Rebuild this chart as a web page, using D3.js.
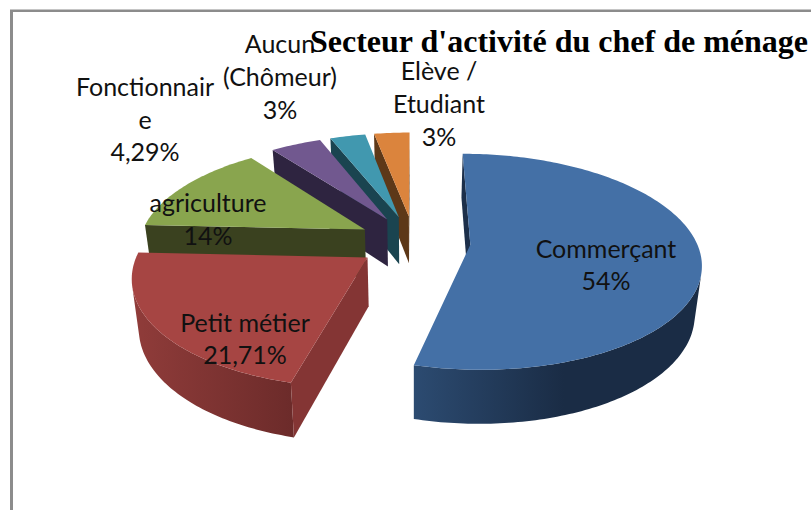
<!DOCTYPE html>
<html><head><meta charset="utf-8">
<style>html,body{margin:0;padding:0;background:#fff}svg{display:block}</style>
<script src="https://cdn.jsdelivr.net/npm/d3@7"></script></head>
<body><svg id="c" width="811" height="510"></svg>
<script>
// ---- data ----
const categories = ["Commerçant","Petit métier","agriculture","Fonctionnaire","Aucun (Chômeur)","Elève / Etudiant"];
const values = [54,21.71,14,4.29,3,3];
const valueLabels = ["54%","21,71%","14%","4,29%","3%","3%"];
const labelLines = [["Commerçant"],["Petit métier"],["agriculture"],["Fonctionnair","e"],["Aucun","(Chômeur)"],["Elève /","Etudiant"]];
const title = "Secteur d'activité du chef de ménage";
// ---- styles ----
const topColors  = ["#4470a6","#a64543","#89a54e","#71588f","#4198af","#db843d"];
const cutColors  = ["#1c2f4a","#843534","#3a411f","#2e2440","#1a4450","#5d3818"];
const wallLight  = ["#2c4b71","#903c3a","#3f4722","#33294a","#1c4a57","#64401c"];
const wallDark   = ["#1a2c45","#6c2b2a","#3a411f","#2e2440","#1a4450","#5d3818"];
const labelCx = [606,245,208,145,280,439];
const labelBase = [258,332,212,96,53,80];
const lineStep = [32,32,33,32.5,33,33];
// ---- projection ----
const X0=414, Y0=241.5, RX=226, RY=104.3, PERSP=0.1565, DEPTH=48, SHRINK=0.975, EXPLODE=0.25;
const sx=d3.scaleLinear().domain([-1,1]).range([X0-RX,X0+RX]);
const sy=d3.scaleLinear().domain([-1,1]).range([Y0-RY,Y0+RY]);
function P(gx,gy,z){
  const s=1/(1-PERSP*gy), c=z?SHRINK:1;
  return [X0+(sx(gx)-X0)*s*c, Y0+(sy(gy)-Y0)*s*c+(z?DEPTH*s:0)];
}
const area=pts=>d3.polygonArea(pts);
const svg=d3.select("#c");
const defs=svg.append("defs");
const arcs=d3.pie().sort(null).value(d=>d)(values);
const line=d3.line().curve(d3.curveLinearClosed);
const order=d3.range(values.length).reverse();
const g=svg.append("g");
order.forEach(i=>{
  const a=arcs[i], mid=(a.startAngle+a.endAngle)/2;
  const ox=EXPLODE*Math.sin(mid), oy=-EXPLODE*Math.cos(mid);
  const rim=(t,z)=>P(ox+Math.sin(t),oy-Math.cos(t),z);
  const apex=z=>P(ox,oy,z);
  const n=Math.max(4,Math.ceil((a.endAngle-a.startAngle)/(Math.PI/180)));
  const ts=d3.range(n+1).map(k=>a.startAngle+(a.endAngle-a.startAngle)*k/n);
  // outer wall: keep only the segments facing the camera
  let run=[];
  for(let k=0;k<n;k++){
    const q=[rim(ts[k],0),rim(ts[k+1],0),rim(ts[k+1],1),rim(ts[k],1)];
    if(area(q)>0) run.push(k);
  }
  if(run.length){
    const lo=run[0],hi=run[run.length-1]+1;
    const up=d3.range(lo,hi+1).map(k=>rim(ts[k],0));
    const dn=d3.range(lo,hi+1).map(k=>rim(ts[k],1)).reverse();
    const poly=up.concat(dn);
    const xs=poly.map(p=>p[0]);
    const gid="wall"+i, minx=d3.min(xs), maxx=d3.max(xs);
    const lg=defs.append("linearGradient").attr("id",gid).attr("gradientUnits","userSpaceOnUse")
      .attr("x1",minx).attr("x2",i===0?minx+150:maxx).attr("y1",0).attr("y2",0);
    lg.append("stop").attr("offset",0).attr("stop-color",wallLight[i]);
    lg.append("stop").attr("offset",1).attr("stop-color",wallDark[i]);
    g.append("path").attr("d",line(poly)).attr("fill",`url(#${gid})`);
  }
  // cut faces: back-face culled
  [a.startAngle,a.endAngle].forEach((t,j)=>{
    const q=[apex(0),rim(t,0),rim(t,1),apex(1)];
    const sgn=j===0?area(q):-area(q);
    if(sgn>0) g.append("path").attr("d",line(q)).attr("fill",cutColors[i]);
  });
  // top face
  const top=[apex(0)].concat(ts.map(t=>rim(t,0)));
  g.append("path").attr("d",line(top)).attr("fill",topColors[i]);
});
// chart-area border
const border="#8c8c8c";
svg.append("line").attr("x1",10).attr("x2",811).attr("y1",10.8).attr("y2",10.8).attr("stroke",border).attr("stroke-width",2.5);
svg.append("line").attr("x1",11.5).attr("x2",11.5).attr("y1",10).attr("y2",510).attr("stroke",border).attr("stroke-width",3);
// labels
categories.forEach((c,i)=>{
  const lines=labelLines[i].concat([valueLabels[i]]);
  const t=svg.append("text").attr("text-anchor","middle").attr("font-family","Lato, 'Open Sans', sans-serif")
    .attr("font-size",25).attr("fill","#111");
  lines.forEach((l,k)=>t.append("tspan").attr("x",labelCx[i]).attr("y",labelBase[i]+k*lineStep[i]).text(l));
});
svg.append("text").attr("x",310).attr("y",52).attr("font-family","'Liberation Serif',serif")
  .attr("font-weight","bold").attr("font-size",32).attr("fill","#000").text(title);
</script></body></html>
